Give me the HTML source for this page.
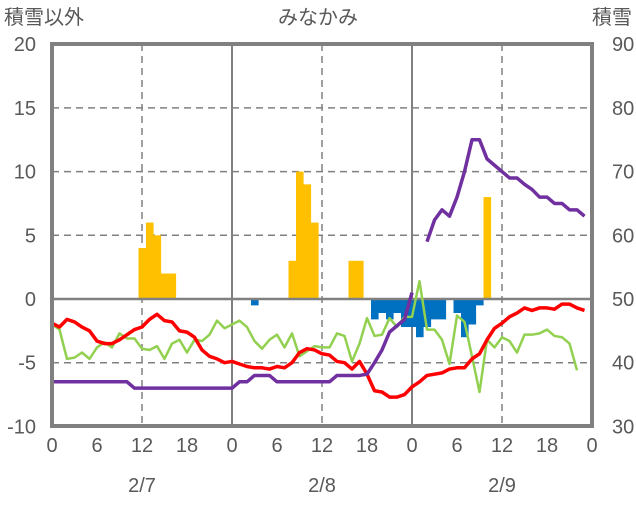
<!DOCTYPE html>
<html><head><meta charset="utf-8"><style>
body{margin:0;background:#fff}
svg text{font-family:"Liberation Sans","Noto Sans CJK JP",sans-serif;fill:#595959}
</style></head><body>
<svg id="s" width="636" height="501" viewBox="0 0 636 501" xmlns="http://www.w3.org/2000/svg">
<text x="4" y="24" font-size="20">積雪以外</text>
<text x="318" y="24" font-size="20" text-anchor="middle">みなかみ</text>
<text x="632" y="24" font-size="20" text-anchor="end">積雪</text>
<g id="g"></g>
</svg>
<script>
var X=function(h){return 52+7.5*h},Y=function(v){return 299-v*12.74};
var o='';
[15,10,5,-5].forEach(function(v){o+='<line x1="52" x2="592" y1="'+Y(v)+'" y2="'+Y(v)+'" stroke="#808080" stroke-width="1.5" stroke-dasharray="7,5"/>';});
[12,36,60].forEach(function(h){o+='<line y1="44" y2="426" x1="'+X(h)+'" x2="'+X(h)+'" stroke="#808080" stroke-width="1.5" stroke-dasharray="7,5"/>';});
[24,48].forEach(function(h){o+='<line y1="44" y2="426" x1="'+X(h)+'" x2="'+X(h)+'" stroke="#808080" stroke-width="2"/>';});
var yb={12:4,13:6,14:5,15:2,16:2,32:3,33:10,34:9,35:6,40:3,41:3,58:8};
for(var h in yb){o+='<rect x="'+(X(+h)-3.5)+'" width="7.6" y="'+Y(yb[h])+'" height="'+(yb[h]*12.74)+'" fill="#ffc000"/>';}
var bb={27:-.5,43:-1.6,44:-1.1,45:-1.6,46:-1.1,47:-2.2,48:-2.2,49:-3,50:-2.2,51:-1.6,52:-1.6,54:-1.1,55:-3,56:-2,57:-.5};
for(var h in bb){o+='<rect x="'+(X(+h)-3.5)+'" width="7.6" y="299" height="'+(-bb[h]*12.74)+'" fill="#0070c0"/>';}
o+='<line x1="52" x2="592" y1="299" y2="299" stroke="#808080" stroke-width="2.5"/>';
function pl(a,c,w,s){s=s||0;return '<polyline fill="none" stroke="'+c+'" stroke-width="'+w+'" stroke-linejoin="round" points="'+a.map(function(v,i){return X(i+s)+','+Y(v)}).join(' ')+'"/>';}
var red=[-1.9,-2.2,-1.6,-1.8,-2.2,-2.5,-3.3,-3.5,-3.5,-3.2,-2.8,-2.4,-2.2,-1.6,-1.2,-1.7,-1.8,-2.5,-2.6,-3,-4,-4.5,-4.7,-5,-4.9,-5.1,-5.3,-5.4,-5.4,-5.5,-5.3,-5.4,-5,-4.2,-3.9,-4,-4.3,-4.4,-4.9,-5,-5.5,-4.9,-5.9,-7.2,-7.3,-7.7,-7.7,-7.5,-6.9,-6.5,-6,-5.9,-5.8,-5.5,-5.4,-5.4,-4.7,-4.3,-3.2,-2.3,-1.9,-1.4,-1.1,-.7,-.9,-.7,-.7,-.8,-.4,-.4,-.7,-.9];
var grn=[-2,-2.4,-4.7,-4.6,-4.2,-4.7,-3.8,-3.4,-3.8,-2.7,-3.1,-3.1,-3.9,-4,-3.7,-4.7,-3.5,-3.2,-4.2,-3.2,-3.3,-2.8,-1.7,-2.3,-2,-1.7,-2.2,-3.3,-3.9,-3.2,-2.8,-3.8,-2.7,-4.5,-4.1,-3.7,-3.8,-3.8,-2.7,-2.9,-4.9,-3.5,-1.5,-2.9,-2.8,-1.5,-2.2,-1.4,-1.4,1.4,-2.4,-2.4,-3.2,-5.1,-1.3,-1.8,-4.5,-7.3,-3.2,-3.8,-3,-3.3,-4.2,-2.8,-2.8,-2.7,-2.4,-2.9,-3,-3.5,-5.6];
var p1=[];for(var i=0;i<=10;i++)p1.push(-6.5);for(i=11;i<=24;i++)p1.push(-7);p1.push(-6.5,-6.5,-6,-6,-6);for(i=30;i<=37;i++)p1.push(-6.5);p1.push(-6,-6,-6,-6,-5.9,-5,-4,-2.6,-2.1,-1.6,0.5);
var p2=[4.5,6.2,7,6.5,8,10,12.5,12.5,11,10.5,10,9.5,9.5,9,8.6,8,8,7.5,7.5,7,7,6.5];
o+=pl(grn,'#92d050',2.5)+pl(red,'#ff0000',3.5)+pl(p1,'#7030a0',3.5)+pl(p2,'#7030a0',3.5,50);
o+='<rect x="52" y="44" width="540" height="382" fill="none" stroke="#808080" stroke-width="4"/>';
[20,15,10,5,0,-5,-10].forEach(function(v){o+='<text x="36" y="'+(Y(v)+7)+'" font-size="20" text-anchor="end">'+v+'</text><text x="612" y="'+(Y(v)+7)+'" font-size="20">'+(50+2*v)+'</text>';});
var t=[0,6,12,18];for(i=0;i<=12;i++){o+='<text x="'+X(i*6)+'" y="452" font-size="20" text-anchor="middle">'+t[i%4]+'</text>';}
['2/7','2/8','2/9'].forEach(function(d,k){o+='<text x="'+X(12+24*k)+'" y="492" font-size="20" text-anchor="middle">'+d+'</text>';});
document.getElementById('g').innerHTML=o;
</script>
</body></html>
